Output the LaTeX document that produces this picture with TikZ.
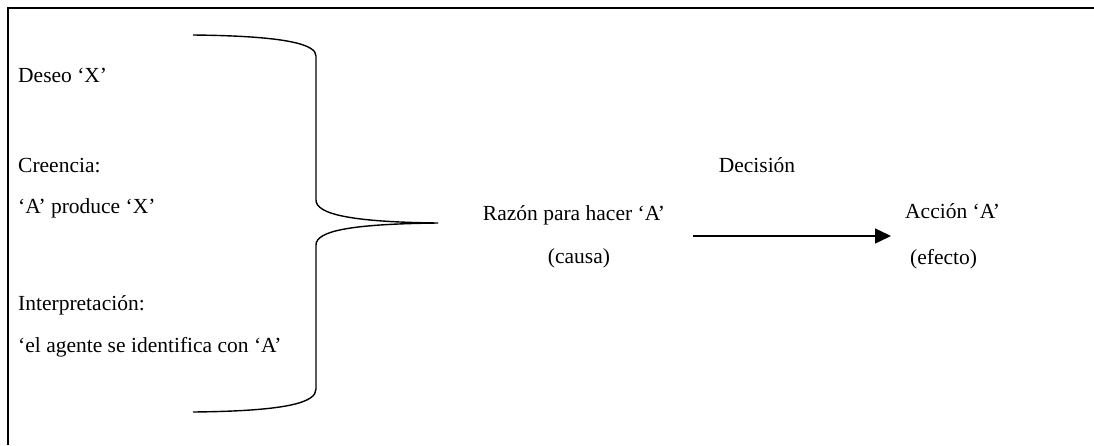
\documentclass[tikz,border=0pt]{standalone}
\usepackage{fontspec}
\setmainfont{Liberation Serif}
\usetikzlibrary{arrows.meta}
\begin{document}
\begin{tikzpicture}[x=1pt,y=-1pt,
  lbl/.style={inner sep=0pt,anchor=base west,font=\fontsize{21.5}{24}\selectfont},
  clbl/.style={inner sep=0pt,anchor=base,font=\fontsize{21.5}{24}\selectfont},
  frame/.style={line width=2.4pt},
  bracestyle/.style={line width=1.4pt},
  conn/.style={line width=1.4pt,-{Triangle[length=16pt,width=15pt]}}]
\useasboundingbox (0,0) rectangle (1094,445);
\draw[frame] (8,445) -- (8,8) -- (1094,8);
% brace
\draw[bracestyle] (193,35) .. controls (290,36) and (316,45) .. (316,56)
  -- (316,200) .. controls (316,214) and (350,222) .. (438,223)
  .. controls (350,224) and (316,231) .. (316,245)
  -- (316,389) .. controls (316,402) and (290,411) .. (193,412);
% left texts
\node[lbl] (deseo) at (18,82) {Deseo ‘X’};
\node[lbl] (creencia) at (18,172) {Creencia:};
\node[lbl] (produce) at (18,213) {‘A’ produce ‘X’};
\node[lbl] (interp) at (18,310) {Interpretación:};
\node[lbl] (agente) at (18,352) {‘el agente se identifica con ‘A’};
% middle
\node[clbl] (razon) at (574,220) {Razón para hacer ‘A’};
\node[clbl] (causa) at (579,263) {(causa)};
\node[clbl] (decision) at (757,172) {Decisión};
% right
\node[lbl] (accion) at (905,218) {Acción ‘A’};
\node[lbl] (efecto) at (910,264) {(efecto)};
% arrow
\coordinate (a1) at (693,236);
\coordinate (a2) at (891,236);
\draw[conn] (a1) -- (a2);
\end{tikzpicture}
\end{document}
